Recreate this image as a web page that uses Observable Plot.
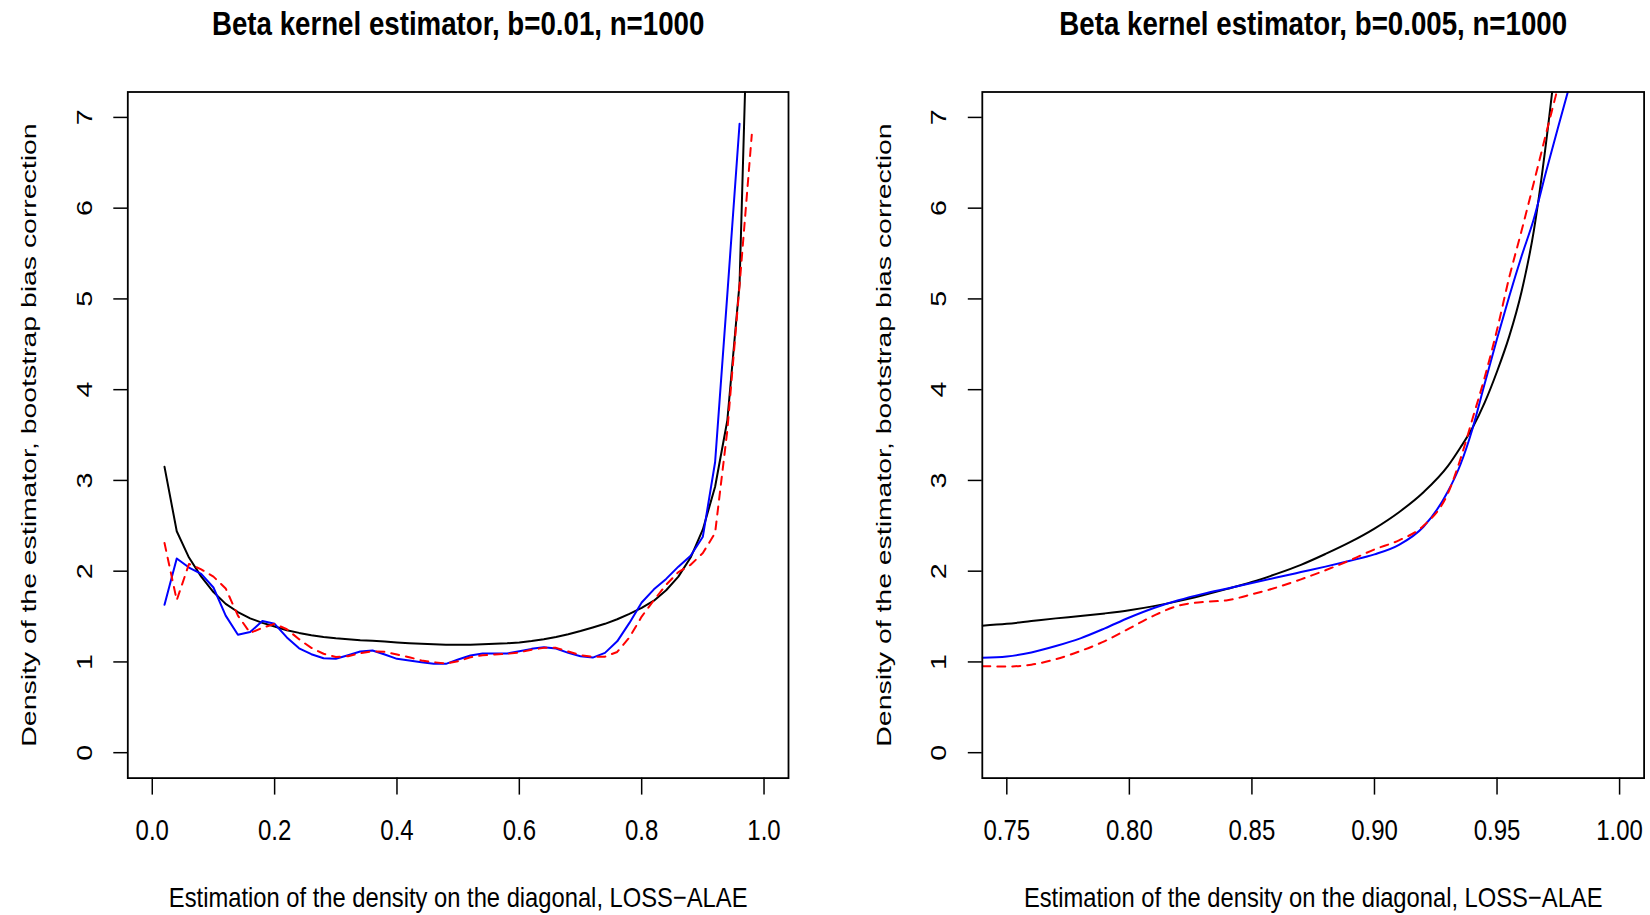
<!DOCTYPE html>
<html>
<head>
<meta charset="utf-8">
<script src="https://cdn.jsdelivr.net/npm/d3@7"></script>
<script src="https://cdn.jsdelivr.net/npm/@observablehq/plot@0.6"></script>
<style>
html, body { margin: 0; padding: 0; background: #fff; }
#wrap { display: flex; width: 1650px; height: 915px; }
svg { display: block; }
</style>
</head>
<body>
<div id="wrap"></div>
<script>
// ---------- Left panel data (grid of evaluation points) ----------
const leftX = [0.02,0.04,0.06,0.08,0.10,0.12,0.14,0.16,0.18,0.20,0.22,0.24,0.26,0.28,0.30,0.32,0.34,0.36,0.38,0.40,
               0.42,0.44,0.46,0.48,0.50,0.52,0.54,0.56,0.58,0.60,0.62,0.64,0.66,0.68,0.70,0.72,0.74,0.76,0.78,0.80,
               0.82,0.84,0.86,0.88,0.90,0.92,0.94,0.96,0.98];
// true density (black)
const leftTrue = [3.15,2.44,2.15,1.94,1.77,1.64,1.55,1.48,1.43,1.39,1.35,1.32,1.295,1.275,1.26,1.25,1.24,1.233,1.225,1.215,
                  1.207,1.20,1.195,1.19,1.19,1.19,1.195,1.20,1.205,1.215,1.23,1.25,1.275,1.305,1.34,1.38,1.42,1.47,1.53,1.595,
                  1.675,1.79,1.94,2.15,2.46,2.93,3.66,5.17,9.9];
// beta kernel estimator (blue) - no value at 0.98
const leftEst = [1.63,2.14,2.04,1.97,1.82,1.51,1.30,1.33,1.45,1.42,1.27,1.15,1.085,1.04,1.035,1.074,1.115,1.126,1.082,1.034,
                 1.016,0.997,0.979,0.979,1.027,1.071,1.093,1.093,1.093,1.118,1.144,1.162,1.148,1.10,1.063,1.048,1.10,1.227,1.43,1.655,
                 1.80,1.915,2.05,2.17,2.38,3.20,5.05,6.93];
// bootstrap bias corrected (red dashed)
const leftCorr = [2.31,1.68,2.08,2.02,1.94,1.81,1.51,1.32,1.375,1.42,1.36,1.25,1.155,1.09,1.055,1.063,1.096,1.118,1.111,1.082,
                  1.052,1.016,0.997,0.982,1.008,1.052,1.074,1.082,1.089,1.105,1.135,1.155,1.155,1.115,1.075,1.055,1.058,1.11,1.27,1.50,
                  1.68,1.85,1.99,2.07,2.20,2.42,3.55,5.15,6.81];

// ---------- Right panel data ----------
const rightX = [0.74,0.75,0.76,0.77,0.78,0.79,0.80,0.81,0.82,0.83,0.84,0.85,0.86,0.87,0.88,0.89,0.90,0.91,0.92,
                0.93,0.935,0.94,0.945,0.95,0.955,0.96,0.965,0.97,0.975,0.98];
const rightTrue = [1.40,1.42,1.45,1.48,1.505,1.535,1.57,1.615,1.67,1.735,1.805,1.88,1.97,2.07,2.19,2.32,2.47,2.65,2.87,
                   3.16,3.36,3.58,3.86,4.20,4.59,5.08,5.75,6.72,7.9,9.3];
const rightEst = [1.045,1.06,1.105,1.175,1.26,1.37,1.49,1.595,1.68,1.75,1.81,1.87,1.93,1.99,2.05,2.115,2.185,2.29,2.49,
                  2.88,3.17,3.57,4.07,4.56,5.03,5.47,5.88,6.40,6.90,7.39];
const rightCorr = [0.953,0.95,0.97,1.03,1.12,1.23,1.37,1.51,1.62,1.66,1.68,1.745,1.82,1.91,2.01,2.12,2.24,2.34,2.50,
                   2.86,3.23,3.68,4.14,4.66,5.24,5.75,6.28,6.82,7.35,7.9];

// ---------- Axes / labels ----------
const leftXTicks = [0, 0.2, 0.4, 0.6, 0.8, 1.0];
const rightXTicks = [0.75, 0.80, 0.85, 0.90, 0.95, 1.00];
const yTicks = [0, 1, 2, 3, 4, 5, 6, 7];
const titleLeft = "Beta kernel estimator, b=0.01, n=1000";
const titleRight = "Beta kernel estimator, b=0.005, n=1000";
const xLabel = "Estimation of the density on the diagonal, LOSS\u2212ALAE";
const yLabel = "Density of the estimator, bootstrap bias correction";

function series(xs, ys) {
  return ys.map((y, i) => ({x: xs[i], y}));
}

function panel({xDomain, xTicks, tickFmt, title, trueD, estD, corrD, curve, marginLeft, marginRight}) {
  return Plot.plot({
    width: 825,
    height: 915,
    marginLeft, marginRight,
    marginTop: 91.5,
    marginBottom: 137.4,
    style: {fontFamily: "'Liberation Sans', Arial, Helvetica, sans-serif", background: "white", color: "black", overflow: "visible"},
    x: {domain: xDomain},
    y: {domain: [-0.28, 7.28]},
    marks: [
      Plot.line(trueD, {x: "x", y: "y", stroke: "black", strokeWidth: 2, curve, clip: true}),
      Plot.line(estD, {x: "x", y: "y", stroke: "#0000ff", strokeWidth: 2, curve, clip: true}),
      Plot.line(corrD, {x: "x", y: "y", stroke: "#ff0000", strokeWidth: 2, strokeDasharray: "8,7", curve, clip: true}),
      Plot.frame({stroke: "black", strokeWidth: 1.8}),
      Plot.axisX({ticks: xTicks, tickSize: 17, tickPadding: 24, fontSize: 24, tickFormat: tickFmt, label: null, strokeWidth: 1.5}),
      Plot.axisY({ticks: yTicks, tickSize: 14, tickPadding: 22, tickRotate: -90, textAnchor: "middle", lineAnchor: "bottom",
                  fontSize: 23, tickFormat: d => String(d), label: null, strokeWidth: 1.5}),
      Plot.text([title], {frameAnchor: "top", dy: -57, lineAnchor: "bottom", fontSize: 27.7, fontWeight: "bold"}),
      Plot.text([xLabel], {frameAnchor: "bottom", dy: 128.4, lineAnchor: "bottom", fontSize: 23.75}),
      Plot.text([yLabel], {frameAnchor: "left", dx: -91.4, rotate: -90, textAnchor: "middle", lineAnchor: "bottom", fontSize: 20})
    ]
  });
}

// stretch text vertically on screen (the reference glyphs are tall and narrow)
function stretch(svg) {
  svg.querySelectorAll("text").forEach(t => {
    const tr = t.getAttribute("transform") || "";
    const rot = /rotate\(\s*-?90/.test(tr);
    const isYLab = t.textContent === yLabel;
    if (rot && !isYLab) t.setAttribute("font-size", "22");
    const s = rot ? (isYLab ? "scale(1.42,1)" : "scale(1.3,1)") : "scale(1,1.2)";
    if (tr) {
      t.setAttribute("transform", tr + " " + s);
    } else {
      const x = parseFloat(t.getAttribute("x")) || 0;
      const yA = t.getAttribute("y") || "";
      const y = yA.endsWith("em") ? 0 : (parseFloat(yA) || 0);
      t.setAttribute("transform", `translate(${x},${y}) ${s} translate(${-x},${-y})`);
    }
  });
  return svg;
}

const left = panel({
  xDomain: [-0.04, 1.04], xTicks: leftXTicks, tickFmt: d3.format(".1f"), title: titleLeft,
  trueD: series(leftX, leftTrue), estD: series(leftX, leftEst), corrD: series(leftX, leftCorr),
  curve: "linear", marginLeft: 127.3, marginRight: 37
});
const right = panel({
  xDomain: [0.74, 1.01], xTicks: rightXTicks, tickFmt: d3.format(".2f"), title: titleRight,
  trueD: series(rightX, rightTrue), estD: series(rightX, rightEst), corrD: series(rightX, rightCorr),
  curve: "monotone-x", marginLeft: 156.8, marginRight: 6.4
});
const wrap = document.getElementById("wrap");
wrap.appendChild(stretch(left));
wrap.appendChild(stretch(right));
</script>
</body>
</html>
